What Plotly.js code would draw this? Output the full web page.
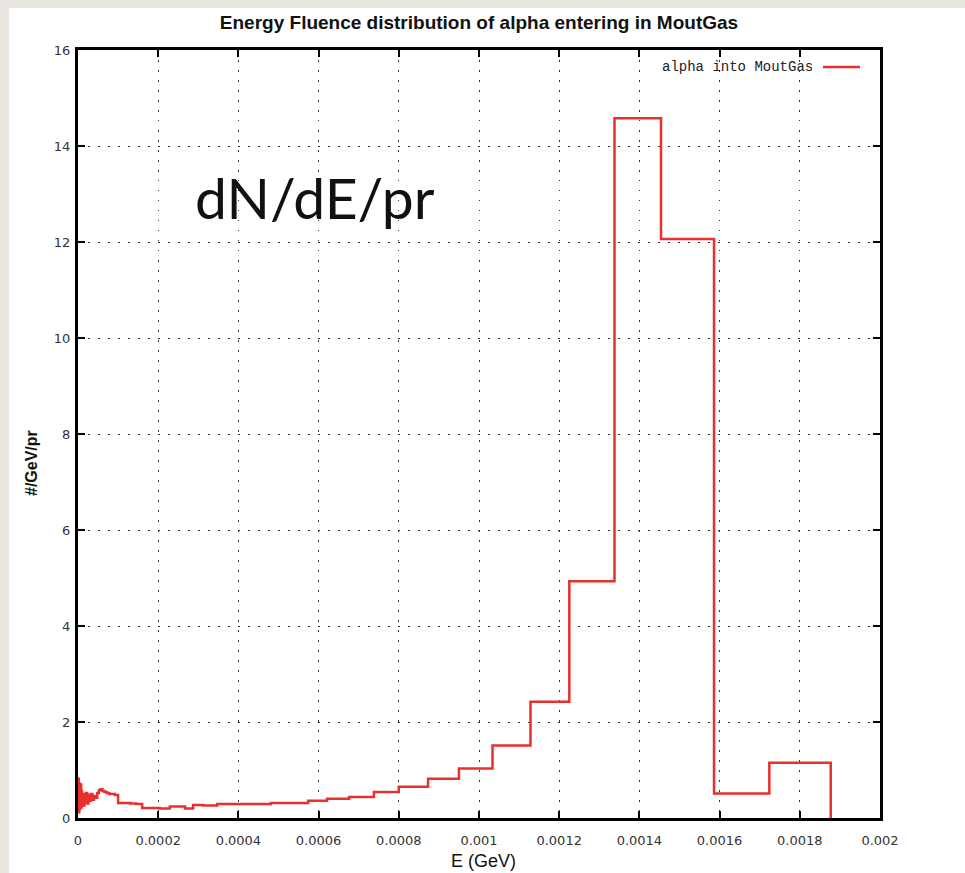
<!DOCTYPE html>
<html>
<head>
<meta charset="utf-8">
<script src="https://cdn.plot.ly/plotly-3.0.1.min.js"></script>
<style>
  html, body { margin: 0; padding: 0; width: 965px; height: 873px; overflow: hidden; background: #e9e6e1; }
  #panel { position: absolute; left: 9px; top: 8px; width: 956px; height: 865px; background: #ffffff; }
  #chart { position: absolute; left: 0; top: 0; width: 965px; height: 873px; }
</style>
</head>
<body>
<div id="panel"></div>
<div id="chart"></div>
<script>
// Histogram bin left edges (GeV) and fluence values (#/GeV/pr)
const binEdges = [
  0.000000, 0.000001, 0.000002, 0.000003, 0.000004, 0.000005, 0.000006, 0.000007,
  0.000008, 0.000009, 0.000010, 0.000012, 0.000014, 0.000016, 0.000018, 0.000020,
  0.000023, 0.000026, 0.000029, 0.000032, 0.000036, 0.000040, 0.000044, 0.000048,
  0.000052, 0.000056, 0.000061, 0.000066, 0.000072, 0.000078, 0.000085, 0.000092,
  0.000100, 0.000130, 0.000145, 0.000160, 0.000204, 0.000229, 0.000267, 0.000287,
  0.000312, 0.000347, 0.000481, 0.000526, 0.000574, 0.000621, 0.000676, 0.000738,
  0.000800, 0.000873, 0.000950, 0.0010337, 0.0011284, 0.0012252, 0.0013379, 0.0014539,
  0.0015861, 0.0017240
];
const fluence = [
  0.30, 0.82, 0.12, 0.72, 0.18, 0.62, 0.30, 0.70,
  0.22, 0.55, 0.28, 0.50, 0.26, 0.44, 0.32, 0.52,
  0.30, 0.48, 0.36, 0.50, 0.38, 0.46, 0.42, 0.52,
  0.58, 0.60, 0.56, 0.54, 0.52, 0.50, 0.50, 0.48,
  0.31, 0.30, 0.29, 0.21, 0.20, 0.24, 0.20, 0.27,
  0.26, 0.29, 0.31, 0.31, 0.36, 0.40, 0.44, 0.54,
  0.65, 0.82, 1.03, 1.51, 2.42, 4.93, 14.58, 12.06,
  0.51, 1.15
];
const lastEdge = 0.0018771;

const xTickVals = [0, 0.0002, 0.0004, 0.0006, 0.0008, 0.001, 0.0012, 0.0014, 0.0016, 0.0018, 0.002];
const xTickText = ["0", "0.0002", "0.0004", "0.0006", "0.0008", "0.001", "0.0012", "0.0014", "0.0016", "0.0018", "0.002"];
const yTickVals = [0, 2, 4, 6, 8, 10, 12, 14, 16];

const seriesName = "alpha into MoutGas";
const chartTitle = "Energy Fluence distribution of alpha entering in MoutGas";
const xTitle = "E (GeV)";
const yTitle = "#/GeV/pr";
const overlayText = "dN/dE/pr";

const xs = binEdges.concat([lastEdge]);
const ys = fluence.concat([0]);

const trace = {
  x: xs, y: ys, type: "scatter", mode: "lines",
  line: { shape: "hv", color: "#e8302c", width: 2.5 },
  name: seriesName, showlegend: false, hoverinfo: "skip"
};

const axisCommon = {
  showline: true, linecolor: "#000", linewidth: 3, mirror: "ticks",
  ticks: "inside", ticklen: 7, tickwidth: 2, tickcolor: "#000",
  showgrid: true, gridcolor: "#333", gridwidth: 1, griddash: "1.5px,8.5px",
  zeroline: false, fixedrange: true,
  tickfont: { family: "DejaVu Sans", size: 13, color: "#333" }
};

const px = (v) => (v - 78) / 802;
const py = (v) => (818 - v) / 768;

const layout = {
  width: 965, height: 873,
  margin: { l: 78, r: 85, t: 50, b: 55, pad: 0 },
  paper_bgcolor: "rgba(0,0,0,0)", plot_bgcolor: "#ffffff",
  showlegend: false,
  title: {
    text: chartTitle, x: 0.5, xref: "paper", xanchor: "center",
    y: 1 - 22 / 873, yref: "container", yanchor: "middle",
    font: { family: "Liberation Sans", size: 19, color: "#111", weight: "bold" }
  },
  xaxis: Object.assign({}, axisCommon, {
    range: [0, 0.002], tickmode: "array", tickvals: xTickVals, ticktext: xTickText,
    ticklabelstandoff: 8
  }),
  yaxis: Object.assign({}, axisCommon, {
    range: [0, 16], tickmode: "array", tickvals: yTickVals, ticktext: yTickVals.map(String),
    ticklabelstandoff: 2
  }),
  annotations: [
    {
      text: overlayText, xref: "paper", yref: "paper", x: px(193), y: py(197),
      xanchor: "left", yanchor: "middle", showarrow: false,
      font: { family: "Lato", size: 57, color: "#111" }
    },
    {
      text: seriesName, xref: "paper", yref: "paper", x: px(815), y: py(67),
      xanchor: "right", yanchor: "middle", showarrow: false,
      font: { family: "Liberation Mono", size: 14, color: "#222" }
    },
    {
      text: xTitle, xref: "paper", yref: "paper", x: px(483), y: py(861),
      xanchor: "center", yanchor: "middle", showarrow: false,
      font: { family: "Liberation Sans", size: 18, color: "#111" }
    },
    {
      text: yTitle, xref: "paper", yref: "paper", x: px(31), y: py(463),
      xanchor: "center", yanchor: "middle", showarrow: false, textangle: -90,
      font: { family: "Liberation Sans", size: 16, color: "#111", weight: "bold" }
    }
  ],
  shapes: [
    {
      type: "line", xref: "paper", yref: "paper",
      x0: px(823), x1: px(860), y0: py(67), y1: py(67),
      line: { color: "#e8302c", width: 2.5 }
    }
  ]
};

Plotly.newPlot("chart", [trace], layout, { displayModeBar: false, staticPlot: true });
</script>
</body>
</html>
